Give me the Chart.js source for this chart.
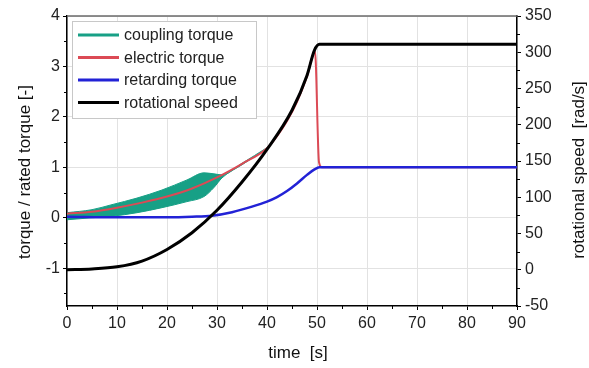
<!DOCTYPE html>
<html><head><meta charset="utf-8">
<script src="https://cdn.jsdelivr.net/npm/chart.js@4.4.1/dist/chart.umd.min.js"></script>
<style>html,body{margin:0;padding:0;background:#fff}#wrap{width:589px;height:368px;position:relative}</style>
</head><body><div id="wrap"><canvas id="c"></canvas></div>
<script>
// ---- data ----
const speedTime   = [0, 5, 10, 15, 20, 25, 30, 35, 40, 45, 48, 49.5, 50.5, 60, 70, 80, 90];
const speedValues = [0, 1, 4, 12, 28, 51, 82, 121, 166, 220, 268, 303, 311, 311, 311, 311, 311];

const electricTime   = [0, 5, 10, 15, 20, 25, 30, 35, 40, 42, 44, 46, 48, 49.6, 50.4, 51, 60, 70, 80, 90];
const electricValues = [0.08, 0.12, 0.2, 0.3, 0.42, 0.58, 0.8, 1.07, 1.38, 1.62, 1.92, 2.3, 2.8, 3.3, 1.1, 1.0, 1.0, 1.0, 1.0, 1.0];

const retardTime   = [0, 10, 20, 25, 29, 33, 37, 40, 42, 44, 46, 48, 49.5, 50.5, 60, 70, 80, 90];
const retardValues = [0.02, 0.01, 0.01, 0.02, 0.04, 0.11, 0.22, 0.32, 0.41, 0.53, 0.68, 0.85, 0.96, 1.0, 1.0, 1.0, 1.0, 1.0];

const couplingTime  = [0, 5, 9, 14, 19, 24, 27.4, 29.4, 31, 35, 40];
const couplingUpper = [0.1, 0.16, 0.26, 0.39, 0.55, 0.75, 0.89, 0.87, 0.85, 1.08, 1.39];
const couplingLower = [-0.04, 0, 0.03, 0.1, 0.2, 0.32, 0.42, 0.6, 0.79, 1.05, 1.37];

const seriesLabels = ['coupling torque', 'electric torque', 'retarding torque', 'rotational speed'];
const seriesColors = ['#17a086', '#dc4a55', '#2222d6', '#000000'];

const xTitle  = 'time  [s]';
const yTitle  = 'torque / rated torque [-]';
const y2Title = 'rotational speed  [rad/s]';

const xMinor  = [5, 15, 25, 35, 45, 55, 65, 75, 85];
const yMinor  = [-1.5, -0.5, 0.5, 1.5, 2.5, 3.5];
const y2Minor = [-25, 25, 75, 125, 175, 225, 275, 325];

// ---- helpers ----
const pts = (t, v) => t.map((x, i) => ({x, y: v[i]}));
const FONT = "'Liberation Sans', Arial, sans-serif";

const decor = {
  id: 'decor',
  afterDatasetsDraw(chart) {
    const {ctx, chartArea: a, scales} = chart;
    ctx.save();
    // top frame line
    ctx.strokeStyle = '#6a6a6a'; ctx.lineWidth = 1.5;
    ctx.beginPath(); ctx.moveTo(a.left, a.top); ctx.lineTo(a.right, a.top); ctx.stroke();
    // minor ticks
    ctx.strokeStyle = '#000'; ctx.lineWidth = 1;
    xMinor.forEach(v => { const p = Math.round(scales.x.getPixelForValue(v)) + 0.5;
      ctx.beginPath(); ctx.moveTo(p, a.bottom); ctx.lineTo(p, a.bottom + 3); ctx.stroke(); });
    yMinor.forEach(v => { const p = Math.round(scales.y.getPixelForValue(v)) + 0.5;
      ctx.beginPath(); ctx.moveTo(a.left, p); ctx.lineTo(a.left - 3, p); ctx.stroke(); });
    y2Minor.forEach(v => { const p = Math.round(scales.y2.getPixelForValue(v)) + 0.5;
      ctx.beginPath(); ctx.moveTo(a.right, p); ctx.lineTo(a.right + 3, p); ctx.stroke(); });
    // legend
    const lx = a.left + 5.5, ly = a.top + 5.5, lw = 184, lh = 97;
    ctx.fillStyle = '#fff'; ctx.fillRect(lx, ly, lw, lh);
    ctx.strokeStyle = '#c8c8c8'; ctx.lineWidth = 1; ctx.strokeRect(lx, ly, lw, lh);
    ctx.font = '16px ' + FONT; ctx.textBaseline = 'middle'; ctx.textAlign = 'left';
    seriesLabels.forEach((lab, i) => {
      const y = a.top + 19 + i * 22.5;
      ctx.strokeStyle = seriesColors[i]; ctx.lineWidth = 3;
      ctx.beginPath(); ctx.moveTo(a.left + 11, y); ctx.lineTo(a.left + 52, y); ctx.stroke();
      ctx.fillStyle = '#222'; ctx.fillText(lab, a.left + 57, y + 1);
    });
    // axis titles
    ctx.fillStyle = '#111'; ctx.font = '17px ' + FONT; ctx.textAlign = 'center'; ctx.textBaseline = 'middle';
    ctx.fillText(xTitle, (a.left + a.right) / 2 + 6, 353);
    ctx.save(); ctx.translate(25, (a.top + a.bottom) / 2 + 11); ctx.rotate(-Math.PI / 2);
    ctx.fillText(yTitle, 0, 0); ctx.restore();
    ctx.save(); ctx.translate(579, (a.top + a.bottom) / 2 + 9); ctx.rotate(-Math.PI / 2);
    ctx.fillText(y2Title, 0, 0); ctx.restore();
    ctx.restore();
  }
};

const tickFont = {family: FONT, size: 16};

new Chart(document.getElementById('c'), {
  type: 'line',
  data: {
    datasets: [
      {label: seriesLabels[3], data: pts(speedTime, speedValues), yAxisID: 'y2',
       borderColor: seriesColors[3], borderWidth: 3, pointRadius: 0, cubicInterpolationMode: 'monotone', fill: false},
      {label: seriesLabels[2], data: pts(retardTime, retardValues), yAxisID: 'y',
       borderColor: seriesColors[2], borderWidth: 2.5, pointRadius: 0, cubicInterpolationMode: 'monotone', fill: false},
      {label: seriesLabels[1], data: pts(electricTime, electricValues), yAxisID: 'y',
       borderColor: seriesColors[1], borderWidth: 2, pointRadius: 0, cubicInterpolationMode: 'monotone', fill: false},
      {label: seriesLabels[0] + ' (min)', data: pts(couplingTime, couplingLower), yAxisID: 'y',
       borderColor: seriesColors[0], borderWidth: 1, pointRadius: 0, cubicInterpolationMode: 'monotone', fill: false},
      {label: seriesLabels[0], data: pts(couplingTime, couplingUpper), yAxisID: 'y',
       borderColor: seriesColors[0], borderWidth: 1, pointRadius: 0, cubicInterpolationMode: 'monotone',
       fill: '-1', backgroundColor: seriesColors[0]}
    ]
  },
  options: {
    responsive: true, maintainAspectRatio: false, animation: false,
    layout: {padding: {top: 16, left: 0, right: 0, bottom: 0}},
    plugins: {legend: {display: false}, tooltip: {enabled: false}},
    scales: {
      x: {type: 'linear', min: 0, max: 90,
          ticks: {stepSize: 10, font: tickFont, color: '#222', padding: 4, maxRotation: 0},
          grid: {color: '#e2e2e2', tickColor: '#000', tickLength: 4},
          border: {color: '#000', width: 1.5},
          afterFit(s) { s.height = 62; }},
      y: {type: 'linear', position: 'left', min: -1.75, max: 4,
          ticks: {stepSize: 1, font: tickFont, color: '#222', padding: 3},
          afterBuildTicks(s) { s.ticks = s.ticks.filter(t => Number.isInteger(t.value)); },
          grid: {color: '#e2e2e2', tickColor: '#000', tickLength: 4},
          border: {color: '#000', width: 1.5},
          afterFit(s) { s.width = 67; }},
      y2: {type: 'linear', position: 'right', min: -50, max: 350,
          ticks: {stepSize: 50, font: tickFont, color: '#222', padding: 4},
          grid: {drawOnChartArea: false, tickColor: '#000', tickLength: 4},
          border: {color: '#000', width: 1.5},
          afterFit(s) { s.width = 72; }}
    }
  },
  plugins: [decor]
});
</script>
</body></html>
